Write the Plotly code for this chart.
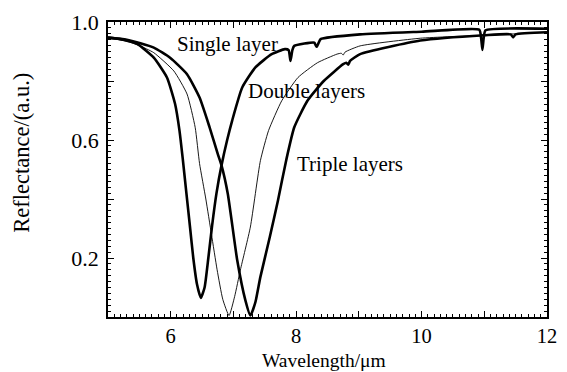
import plotly.graph_objects as go

# Wavelength (um) and reflectance values
single_x = [5.0, 5.2, 5.47, 5.73, 5.94, 6.07, 6.14, 6.19, 6.25, 6.31, 6.36, 6.42, 6.48, 6.54, 6.6, 6.66, 6.73, 6.81, 6.9, 6.98, 7.14, 7.35, 7.61, 7.82, 7.88, 7.91, 7.94, 7.97, 8.29, 8.31, 8.33, 8.36, 8.39, 9.02, 10.0, 10.92, 10.95, 10.97, 10.99, 11.02, 12.0]
single_y = [0.947, 0.942, 0.925, 0.879, 0.812, 0.722, 0.632, 0.54, 0.42, 0.30, 0.20, 0.11, 0.065, 0.10, 0.2, 0.31, 0.42, 0.514, 0.6, 0.666, 0.778, 0.846, 0.891, 0.908, 0.905, 0.868, 0.905, 0.919, 0.93, 0.922, 0.916, 0.93, 0.942, 0.958, 0.967, 0.974, 0.945, 0.905, 0.945, 0.972, 0.977]

double_x = [5.0, 5.3, 5.5, 5.73, 6.05, 6.26, 6.39, 6.46, 6.56, 6.65, 6.74, 6.83, 6.93, 7.02, 7.11, 7.27, 7.43, 7.56, 7.77, 8.03, 8.34, 8.65, 8.72, 8.75, 8.78, 9.02, 9.98, 11.0, 12.0]
double_y = [0.947, 0.935, 0.92, 0.896, 0.834, 0.756, 0.643, 0.52, 0.40, 0.28, 0.16, 0.06, 0.005, 0.07, 0.159, 0.305, 0.53, 0.632, 0.733, 0.812, 0.862, 0.891, 0.894, 0.888, 0.898, 0.919, 0.945, 0.955, 0.965]

triple_x = [5.0, 5.3, 5.73, 5.99, 6.26, 6.46, 6.62, 6.75, 6.81, 6.91, 7.06, 7.19, 7.27, 7.35, 7.43, 7.58, 7.71, 7.84, 7.97, 8.18, 8.44, 8.75, 8.8, 8.83, 8.86, 9.02, 9.98, 11.0, 11.42, 11.46, 11.5, 12.0]
triple_y = [0.947, 0.94, 0.913, 0.879, 0.823, 0.744, 0.643, 0.553, 0.514, 0.418, 0.193, 0.057, 0.005, 0.05, 0.136, 0.271, 0.395, 0.53, 0.643, 0.733, 0.80, 0.857, 0.862, 0.855, 0.868, 0.891, 0.937, 0.955, 0.958, 0.948, 0.958, 0.965]

labels = ["Single layer", "Double layers", "Triple layers"]
label_x = [6.9, 8.17, 8.86]
label_y = [0.926, 0.767, 0.52]

x_tickvals = [5, 6, 7, 8, 9, 10, 11, 12]
x_ticktext = ["", "6", "", "8", "", "10", "", "12"]
y_tickvals = [0.0, 0.2, 0.4, 0.6, 0.8, 1.0]
y_ticktext = ["", "0.2", "", "0.6", "", "1.0"]

FONT = "Liberation Serif, Times New Roman, serif"

fig = go.Figure()
fig.add_trace(go.Scatter(x=single_x, y=single_y, mode="lines",
                         line=dict(color="black", width=2.6, shape="spline", smoothing=0.5)))
fig.add_trace(go.Scatter(x=double_x, y=double_y, mode="lines",
                         line=dict(color="black", width=0.9, shape="spline", smoothing=0.5)))
fig.add_trace(go.Scatter(x=triple_x, y=triple_y, mode="lines",
                         line=dict(color="black", width=2.6, shape="spline", smoothing=0.5)))

for t, lx, ly in zip(labels, label_x, label_y):
    fig.add_annotation(x=lx, y=ly, text=t, showarrow=False,
                       font=dict(family=FONT, size=21, color="black"),
                       xanchor="center", yanchor="middle")

fig.add_annotation(xref="paper", yref="paper", x=0.491, y=-0.146, text="Wavelength/\u03bcm",
                   showarrow=False, font=dict(family=FONT, size=19.5, color="black"),
                   xanchor="center", yanchor="middle")
fig.add_annotation(xref="paper", yref="paper", x=-0.196, y=0.557, text="Reflectance/(a.u.)",
                   showarrow=False, textangle=-90, font=dict(family=FONT, size=22.5, color="black"),
                   xanchor="center", yanchor="middle")

axis_common = dict(showline=True, linecolor="black", linewidth=1.5, mirror="allticks",
                   ticks="inside", tickcolor="black", ticklen=6, tickwidth=1,
                   showgrid=False, zeroline=False)

fig.update_xaxes(range=[5, 12], tickmode="array", tickvals=x_tickvals, ticktext=x_ticktext,
                 tickfont=dict(family=FONT, size=20.5, color="black"),
                 ticklabelstandoff=0,
                 minor=dict(ticks="inside", ticklen=3, tickcolor="black", dtick=0.1, showgrid=False),
                 **axis_common)
fig.update_yaxes(range=[0, 1.0], tickmode="array", tickvals=y_tickvals, ticktext=y_ticktext,
                 tickfont=dict(family=FONT, size=22, color="black"),
                 ticklabelstandoff=3,
                 minor=dict(ticks="inside", ticklen=3, tickcolor="black", dtick=0.02, showgrid=False),
                 **axis_common)

fig.update_layout(width=567, height=372, showlegend=False,
                  plot_bgcolor="white", paper_bgcolor="white",
                  margin=dict(l=108, r=10, t=21, b=55))

fig.write_html("out.html")
